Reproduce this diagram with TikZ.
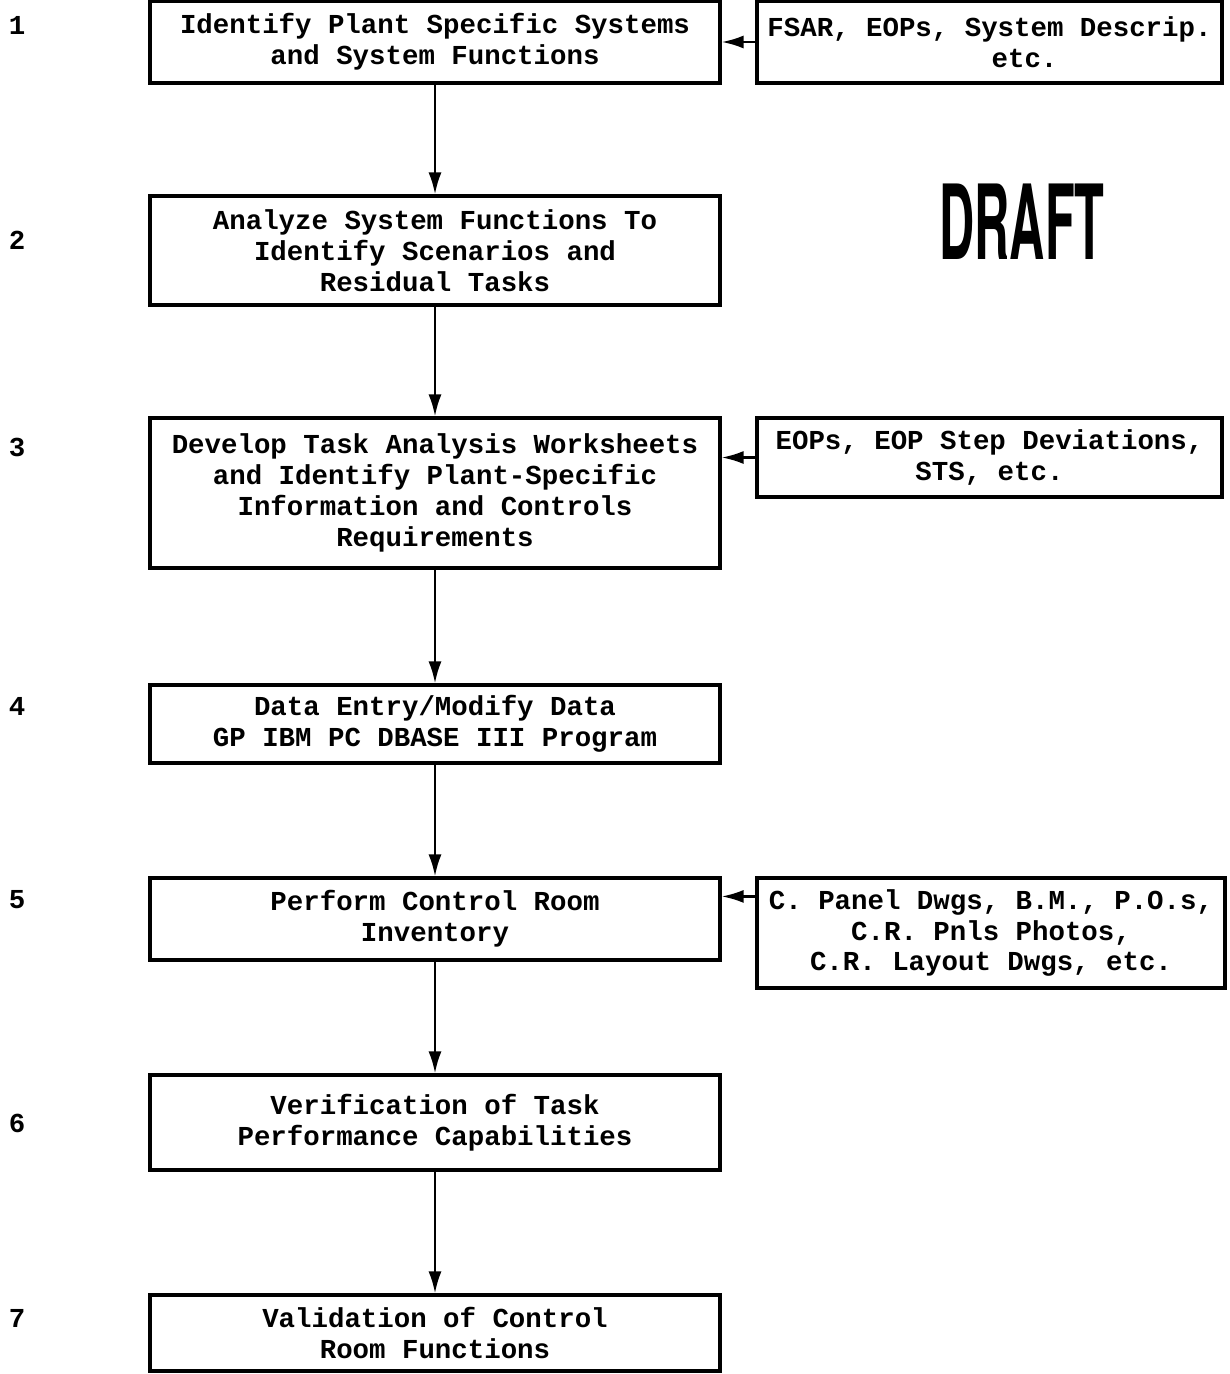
\documentclass[tikz,border=0pt]{standalone}
\usepackage{fontspec}
\setmonofont{Liberation Mono}
\setsansfont{TeX Gyre Heros}
\usetikzlibrary{arrows.meta}

\begin{document}
\begin{tikzpicture}
  [>={Latex[length=2.2mm,width=1.3mm]},
   every node/.style={font=\ttfamily\bfseries\fontsize{7.8}{8.8}\selectfont,align=center},
   stepbox/.style={draw,line width=0.9pt,minimum width=5.7cm,inner sep=1pt},
   srcbox/.style={draw,line width=0.9pt,minimum width=4.65cm,inner sep=1pt},
   flow/.style={->,line width=0.7pt}]
  \useasboundingbox (0,0) rectangle (12.3,-13.74);

  % process steps
  \node[stepbox,minimum height=0.82cm] (s1) at (4.35,-0.42)   {Identify Plant Specific Systems\\and System Functions};
  \node[stepbox,minimum height=1.09cm] (s2) at (4.35,-2.505)  {Analyze System Functions To\\Identify Scenarios and\\Residual Tasks};
  \node[stepbox,minimum height=1.50cm] (s3) at (4.35,-4.93)   {Develop Task Analysis Worksheets\\and Identify Plant-Specific\\Information and Controls\\Requirements};
  \node[stepbox,minimum height=0.78cm] (s4) at (4.35,-7.24)   {Data Entry/Modify Data\\GP IBM PC DBASE III Program};
  \node[stepbox,minimum height=0.82cm] (s5) at (4.35,-9.19)   {Perform Control Room\\Inventory};
  \node[stepbox,minimum height=0.95cm] (s6) at (4.35,-11.225) {Verification of Task\\Performance Capabilities};
  \node[stepbox,minimum height=0.76cm] (s7) at (4.35,-13.33)  {Validation of Control\\Room Functions};

  % inputs
  \node[srcbox,minimum height=0.82cm] (src1) at (9.895,-0.42) {FSAR, EOPs, System Descrip.\\\hspace*{0.7cm}etc.};
  \node[srcbox,minimum height=0.79cm] (src3) at (9.895,-4.575) {EOPs, EOP Step Deviations,\\STS, etc.};
  \node[srcbox,minimum height=1.10cm,minimum width=4.68cm] (src5) at (9.91,-9.33) {C. Panel Dwgs, B.M., P.O.s,\\C.R. Pnls Photos,\\C.R. Layout Dwgs, etc.};

  % step numbers
  \foreach \i/\y in {1/0.25, 2/2.40, 3/4.47, 4/7.06, 5/9.00, 6/11.23, 7/13.18}
    \node (num\i) at (0.17,-\y) {\i};

  \node[font=\sffamily\bfseries\fontsize{29.5}{30}\selectfont] (draft) at (10.22,-2.22) {\scalebox{0.47}[1]{DRAFT}};

\foreach \from/\to in {s1/s2, s2/s3, s3/s4, s4/s5, s5/s6, s6/s7}
    \draw[flow] (\from) -- (\to);
  \draw[flow] (src1.west) -- (src1.west -| s1.east);
  \draw[flow] (src3.west) -- (src3.west -| s3.east);
  \draw[flow] ([yshift=-0.2cm]src5.north west) -- ([yshift=-0.2cm]src5.north west -| s5.east);
\end{tikzpicture}
\end{document}
